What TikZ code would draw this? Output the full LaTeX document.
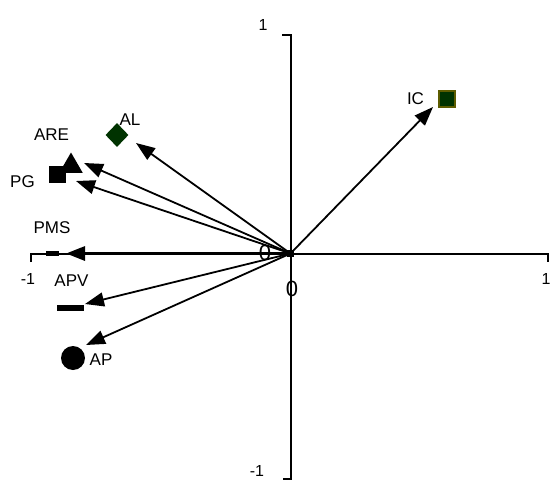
\documentclass[tikz,border=0pt]{standalone}
\usepackage{fontspec}
\setmainfont{Liberation Sans}
\usetikzlibrary{arrows.meta,shapes.geometric}
\definecolor{dgreen}{HTML}{003300}
\definecolor{olivebd}{HTML}{5C5C00}
\begin{document}
\begin{tikzpicture}[x=1pt,y=-1pt,
  axis/.style={line width=2pt},
  vec/.style={line width=1.8pt,-{Triangle[length=19pt,width=14pt]}},
  lbl/.style={inner sep=0pt,font=\fontsize{17}{20}\selectfont},
  albl/.style={inner sep=0pt,font=\fontsize{16}{19}\selectfont},
  zlbl/.style={inner sep=0pt,font=\fontsize{22}{24}\selectfont},
  mk/.style={inner sep=0pt,draw=none,fill=black}]
\useasboundingbox (0,0) rectangle (550,480);
% axes
\coordinate (O) at (290.5,253.5);
\coordinate (xl0) at (31,262);
\coordinate (xl) at (31,253.5);
\coordinate (xr) at (548,253.5);
\coordinate (xr0) at (548,262);
\coordinate (yt0) at (282,35);
\coordinate (yt) at (290.5,35);
\coordinate (yb) at (290.5,479);
\coordinate (yb0) at (283,479);
\draw[axis] (xl0) -- (xl) -- (xr) -- (xr0);
\draw[axis] (yt0) -- (yt) -- (yb) -- (yb0);
\node[mk,rectangle,minimum size=7pt] (Osq) at (O) {};
% axis labels
\node[albl] (tx1) at (263,25) {1};
\node[albl] (txm1b) at (257,471) {-1};
\node[albl] (txm1l) at (28,279) {-1};
\node[albl] (tx1r) at (546,279) {1};
\node[zlbl] (z1) at (265,253) {0};
\node[zlbl] (z2) at (292,289) {0};
% markers
\node[mk,rectangle,minimum size=17pt] (PGm) at (57.5,174.5) {};
\node[mk,regular polygon,regular polygon sides=3,minimum size=27pt] (AREm) at (71,166) {};
\node[fill=dgreen,diamond,inner sep=0pt,minimum width=23pt,minimum height=24pt] (ALm) at (117,135) {};
\node[fill=dgreen,draw=olivebd,line width=2pt,rectangle,inner sep=0pt,minimum size=16pt] (ICm) at (447,99) {};
\node[mk,rectangle,minimum width=13pt,minimum height=5pt] (PMSm) at (52.5,253.5) {};
\node[mk,rectangle,minimum width=27pt,minimum height=6pt] (APVm) at (70.5,308) {};
\node[mk,circle,minimum size=24pt] (APm) at (73,358) {};
% labels
\node[lbl] (ICl) at (415.5,99) {IC};
\node[lbl] (ALl) at (130,120) {AL};
\node[lbl] (AREl) at (51.5,134.5) {ARE};
\node[lbl] (PGl) at (22.5,181.5) {PG};
\node[lbl] (PMSl) at (52,228) {PMS};
\node[lbl] (APVl) at (71.5,281) {APV};
\node[lbl] (APl) at (101,360) {AP};
% arrow tips
\coordinate (tIC) at (433,107);
\coordinate (tAL) at (136,143);
\coordinate (tARE) at (84,163);
\coordinate (tPG) at (76,181);
\coordinate (tPMS) at (66,253.5);
\coordinate (tAPV) at (85,304);
\coordinate (tAP) at (86,345);
\draw[vec] (O) -- (tIC);
\draw[vec] (O) -- (tAL);
\draw[vec] (O) -- (tARE);
\draw[vec] (O) -- (tPG);
\draw[vec,line width=3pt] (O) -- (tPMS);
\draw[vec] (O) -- (tAPV);
\draw[vec] (O) -- (tAP);
\end{tikzpicture}
\end{document}
